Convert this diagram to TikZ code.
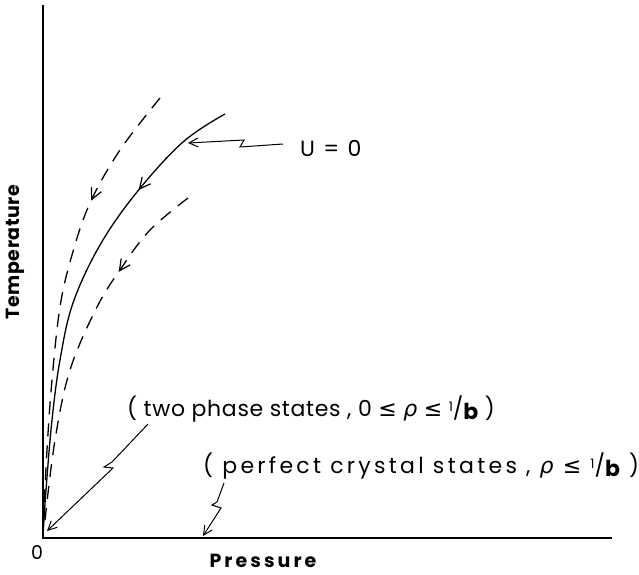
\documentclass[tikz,border=0pt]{standalone}
\usepackage{fontspec}
\setmainfont{Poppins}
\newfontfamily\symf{DejaVu Sans}
\usetikzlibrary{arrows.meta,decorations.markings}
\tikzset{
  ln/.style={line width=1.3pt},
  lbl/.style={font=\fontsize{22}{26}\selectfont\addfontfeatures{LetterSpace=#1}, inner sep=0pt},
  axl/.style={font=\fontsize{19}{22}\selectfont\addfontfeatures{LetterSpace=#1}\bfseries, inner sep=0pt},
  conn/.style={line width=1pt, -{Straight Barb[length=9pt,width=9pt]}},
  flowarrow/.style={postaction={decorate}, decoration={markings, mark=at position #1 with {\arrow[solid, line width=1.2pt]{Straight Barb[length=11pt,width=11pt]}}}},
}
\newcommand{\invb}{\raisebox{0.45ex}{\fontsize{13}{13}\selectfont 1}/\raisebox{-0.25ex}{\bfseries b}}
\newcommand{\rh}{{\symf\itshape ρ}}
\newcommand{\lee}{{\symf ≤}}
\begin{document}
\begin{tikzpicture}[x=1pt,y=-1pt]
\useasboundingbox (0,0) rectangle (639,574);
% axes
\coordinate (O) at (43,538);
\draw[ln] (43,5) -- (O) -- (612,538);
\node[font=\fontsize{19}{22}\selectfont, inner sep=0pt] (zero) at (37,553) {0};
\node[axl=16] (press) at (263,561) {Pressure};
\node[axl=3, rotate=90] (temp) at (15,252) {Temperature};
% curves
\draw[ln, flowarrow=0.24] plot[smooth, tension=0.6] coordinates {(225,114) (183,142) (137,192) (100,245) (73,303) (60,360) (52,420) (46,490) (43,536)};
\draw[ln, dash pattern=on 13pt off 9pt, flowarrow=0.27] plot[smooth, tension=0.6] coordinates {(160,98) (120,150) (90,203) (72,255) (60,307) (52,380) (47,450) (43,530)};
\draw[ln, dash pattern=on 13pt off 9pt, flowarrow=0.28] plot[smooth, tension=0.6] coordinates {(188,198) (150,230) (122,267) (97,307) (70,370) (55,440) (45,520)};
% labels
\node[lbl=11, anchor=west] (U) at (300,148) {U = 0};
\node[lbl=3, anchor=west] (two) at (127,409) {( two phase states , 0 \lee\ \rh\ \lee\ \invb\ )};
\node[lbl=15, anchor=west] (cryst) at (203,466) {( perfect crystal states , \rh\ \lee\ \invb\ )};
% connectors
\coordinate (sU) at (283,144);
\coordinate (tU) at (188,143);
\coordinate (sTwo) at (148,424);
\coordinate (tTwo) at (47,531);
\coordinate (sCr) at (224,483);
\coordinate (tCr) at (203,536);
\draw[conn] (sU) -- (240,147) -- (244,140) -- (tU);
\draw[conn] (sTwo) -- (112,462) -- (104,467) -- (113,468) -- (tTwo);
\draw[conn] (sCr) -- (217,502) -- (212,505) -- (221,508) -- (tCr);
\end{tikzpicture}
\end{document}
